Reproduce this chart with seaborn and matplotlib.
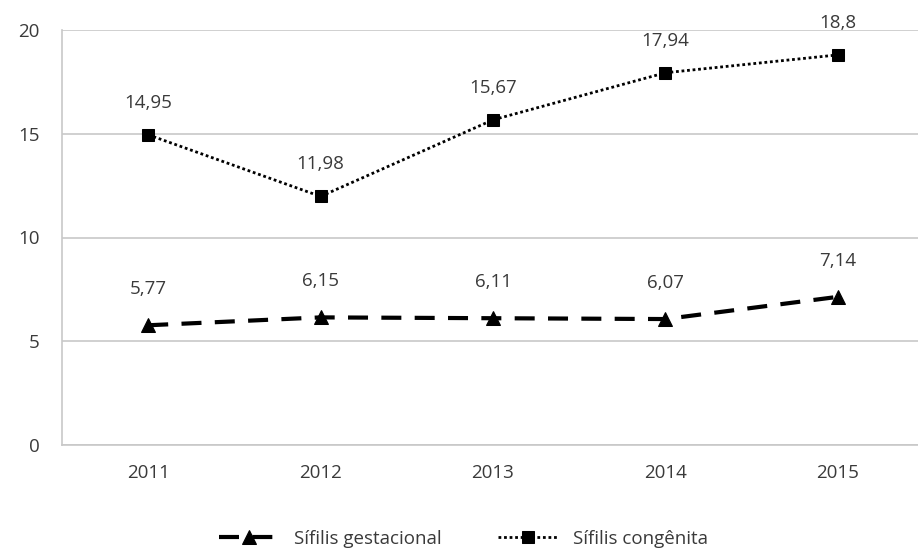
import matplotlib
matplotlib.use("Agg")
import matplotlib.pyplot as plt
import seaborn as sns
import pandas as pd

anos = ["2011", "2012", "2013", "2014", "2015"]
gestacional = [5.77, 6.15, 6.11, 6.07, 7.14]
congenita = [14.95, 11.98, 15.67, 17.94, 18.8]
yticks = [0, 5, 10, 15, 20]

sns.set_theme(style="white")
plt.rcParams["font.family"] = ["Open Sans", "DejaVu Sans"]

df = pd.DataFrame({"ano": anos, "gest": gestacional, "cong": congenita})
df["pos"] = range(len(anos))

fig = plt.figure(figsize=(9.18, 5.5), dpi=100)
ax = fig.add_axes([62 / 918, 105 / 550, 862 / 918, 415 / 550])

txt = "#3a3a3a"
grid = "#c8c8c8"
fs = 13.5

sns.lineplot(data=df, x="pos", y="gest", ax=ax, color="black", lw=3,
             linestyle=(0, (4.8, 3.2)), marker="^", markersize=10,
             markeredgecolor="black", label="Sífilis gestacional")
sns.lineplot(data=df, x="pos", y="cong", ax=ax, color="black", lw=2,
             linestyle=(0, (1, 1)), marker="s", markersize=8,
             markeredgecolor="black", label="Sífilis congênita")

def fmt(v):
    s = f"{v:.2f}".rstrip("0").rstrip(".")
    return s.replace(".", ",")

for x, v in zip(df["pos"], gestacional):
    ax.annotate(fmt(v), (x, v), xytext=(0, 26), textcoords="offset points",
                ha="center", va="center", fontsize=fs, color=txt)
for x, v in zip(df["pos"], congenita):
    ax.annotate(fmt(v), (x, v), xytext=(0, 23), textcoords="offset points",
                ha="center", va="center", fontsize=fs, color=txt)

ax.set_xlim(-0.5, 4.5)
ax.set_ylim(0, 20)
ax.set_yticks(yticks)
ax.set_yticklabels([str(t) for t in yticks])
ax.set_xticks(range(len(anos)))
ax.set_xticklabels(anos)
ax.set_xticks([i + 0.5 for i in range(-1, len(anos))], minor=True)
ax.yaxis.grid(True, color=grid, lw=1.2)
ax.set_axisbelow(True)
ax.set_xlabel("")
ax.set_ylabel("")

for s in ["top", "right"]:
    ax.spines[s].set_visible(False)
for s in ["left", "bottom"]:
    ax.spines[s].set_color(grid)
    ax.spines[s].set_linewidth(1.2)

ax.tick_params(axis="x", which="major", length=0, pad=14, labelsize=fs, colors=txt)
ax.tick_params(axis="x", which="minor", length=6, width=1.2, color=grid, direction="out")
ax.tick_params(axis="y", which="major", length=6, width=1.2, color=grid,
               pad=10, labelsize=fs, labelcolor=txt, direction="out")

leg = ax.legend(loc="center", bbox_to_anchor=(0.5 * 918 / 862 - 62 / 862 + 0.005, -0.226),
                ncol=2, frameon=False, fontsize=fs, handlelength=3.2,
                columnspacing=3.0, handletextpad=0.8)
for t in leg.get_texts():
    t.set_color(txt)

fig.savefig("out.png", dpi=100)
